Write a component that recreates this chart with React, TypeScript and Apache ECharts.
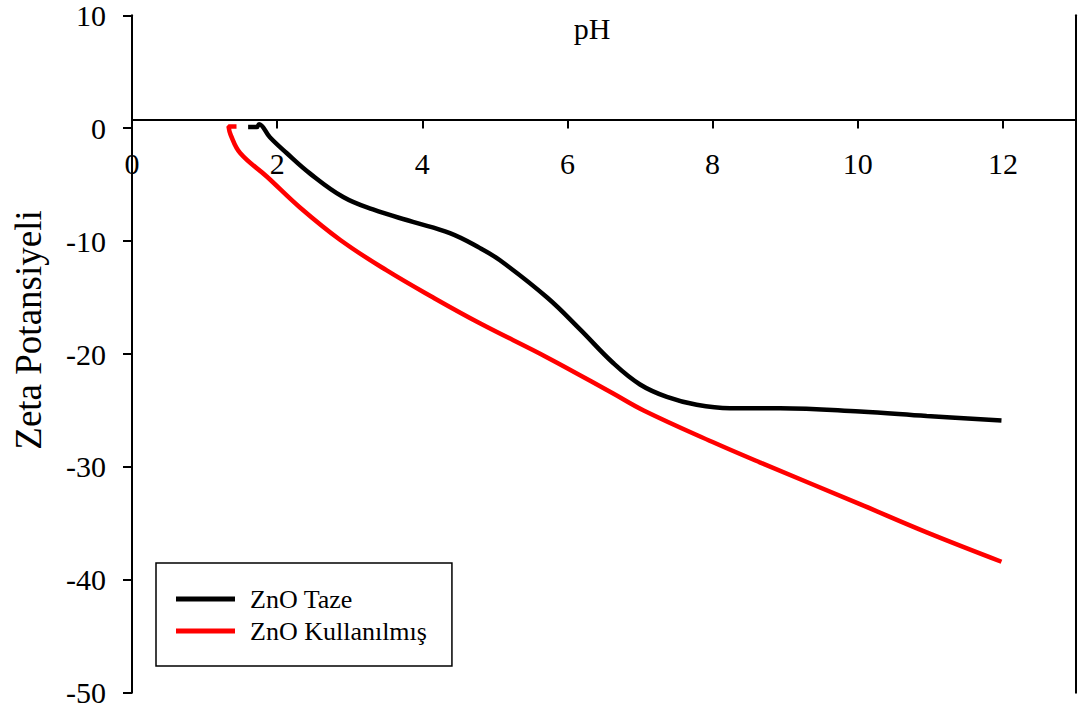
import React, { useEffect, useRef } from "react";
import * as echarts from "echarts";

const phTaze = [1.6, 1.72, 1.75, 1.9, 2.13, 2.45, 2.91, 3.32, 3.87, 4.38, 4.79, 5.07, 5.72, 6.17, 6.63, 7.0, 7.37, 7.78, 8.24, 8.93, 10.03, 10.95, 11.98];
const zetaTaze = [0.1, 0.1, 0.35, -0.8, -2.2, -4.0, -6.1, -7.2, -8.3, -9.3, -10.6, -11.7, -15.0, -17.8, -20.8, -22.7, -23.8, -24.5, -24.8, -24.8, -25.1, -25.5, -25.9];

const phKul = [1.44, 1.33, 1.36, 1.49, 1.86, 2.31, 2.87, 3.51, 4.15, 4.8, 5.72, 6.63, 7.05, 8.0, 8.65, 10.03, 10.95, 11.98];
const zetaKul = [0.15, 0.15, -0.6, -2.2, -4.3, -7.0, -9.9, -12.6, -15.0, -17.3, -20.3, -23.5, -25.0, -27.8, -29.6, -33.3, -35.8, -38.4];

const seriesNames = ["ZnO Taze", "ZnO Kullanılmış"];
const xTitle = "pH";
const yTitle = "Zeta Potansiyeli";

const FONT = "Liberation Serif";

export default function App() {
  const ref = useRef<HTMLDivElement>(null);
  useEffect(() => {
    if (!ref.current) return;
    const chart = echarts.init(ref.current, undefined, { renderer: "svg" });
    const lineAxis = { lineStyle: { color: "#000", width: 2 } };
    chart.setOption({
      animation: false,
      backgroundColor: "#fff",
      textStyle: { fontFamily: FONT },
      grid: { left: 132, right: 2.5, top: 15.3, bottom: 16.3, containLabel: false },
      xAxis: {
        type: "value",
        min: 0,
        max: 13,
        interval: 2,
        position: "top",
        offset: -104.2,
        axisLine: { show: true, onZero: false, ...lineAxis },
        axisTick: { show: true, inside: true, length: 9, lineStyle: { color: "#000", width: 2 } },
        axisLabel: {
          inside: true,
          margin: 29,
          showMaxLabel: false,
          color: "#000",
          fontSize: 30,
          fontFamily: FONT,
        },
        splitLine: { show: false },
      },
      yAxis: [
        {
          type: "value",
          min: -50,
          max: 10,
          interval: 10,
          position: "left",
          axisLine: { show: true, onZero: false, ...lineAxis },
          axisTick: { show: true, inside: false, length: 9, lineStyle: { color: "#000", width: 2 } },
          axisLabel: { margin: 26, color: "#000", fontSize: 30, fontFamily: FONT },
          splitLine: { show: false },
        },
        {
          type: "value",
          min: -50,
          max: 10,
          interval: 10,
          position: "right",
          axisLine: { show: true, onZero: false, ...lineAxis },
          axisTick: { show: false },
          axisLabel: { show: false },
          splitLine: { show: false },
        },
      ],
      legend: {
        orient: "vertical",
        left: 156,
        top: 563,
        data: seriesNames,
        icon: "rect",
        itemWidth: 59,
        itemHeight: 5,
        itemGap: 6,
        borderColor: "#000",
        borderWidth: 1.5,
        borderRadius: 0,
        padding: [23, 25, 22, 20],
        backgroundColor: "#fff",
        textStyle: { color: "#000", fontSize: 26, fontFamily: FONT, padding: [0, 0, 0, 10] },
      },
      graphic: [
        {
          type: "text",
          x: 592,
          y: 28,
          style: { text: xTitle, fill: "#000", fontSize: 30, fontFamily: FONT, textAlign: "center", textVerticalAlign: "middle" },
        },
        {
          type: "text",
          x: 28,
          y: 330,
          rotation: Math.PI / 2,
          style: { text: yTitle, fill: "#000", fontSize: 37, fontFamily: FONT, textAlign: "center", textVerticalAlign: "middle" },
        },
      ],
      series: [
        {
          name: seriesNames[0],
          type: "line",
          data: phTaze.map((x, i) => [x, zetaTaze[i]]),
          showSymbol: false,
          smooth: 0.4,
          lineStyle: { color: "#000", width: 4.5 },
          itemStyle: { color: "#000" },
        },
        {
          name: seriesNames[1],
          type: "line",
          data: phKul.map((x, i) => [x, zetaKul[i]]),
          showSymbol: false,
          smooth: 0.4,
          lineStyle: { color: "#ff0000", width: 4.5 },
          itemStyle: { color: "#ff0000" },
        },
      ],
    });
    return () => chart.dispose();
  }, []);
  return (
    <div
      ref={ref}
      style={{ position: "fixed", left: 0, top: 0, width: 1078, height: 709, background: "#fff" }}
    />
  );
}
